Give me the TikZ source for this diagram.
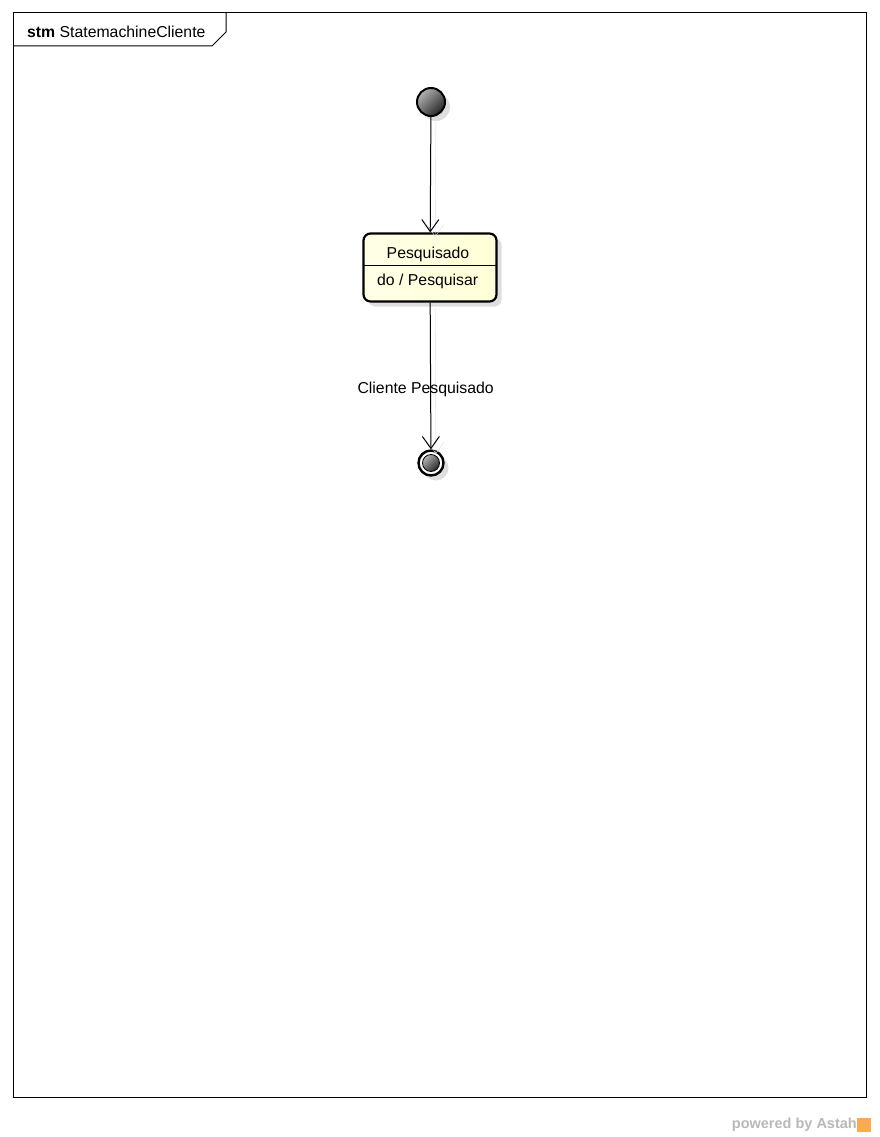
\documentclass[tikz,border=0pt]{standalone}
\usepackage{fontspec}
\setmainfont{Liberation Sans}
\usetikzlibrary{math,arrows.meta,shadows}

\definecolor{statefill}{RGB}{255,255,214}
\definecolor{astahorange}{RGB}{250,170,80}

\tikzset{
  umltext/.style={font=\fontsize{15.8}{19}\selectfont, inner sep=0pt},
  castshadow/.style={drop shadow={shadow xshift=5pt, shadow yshift=-5pt, fill=black!13, opacity=1}},
  initstate/.style={circle, draw, line width=2pt, minimum size=28pt, inner sep=0pt,
    left color=black!30, right color=black!85, shading angle=45, castshadow},
  statebox/.style={rectangle, rounded corners=7pt, draw, line width=2.2pt,
    minimum width=133pt, minimum height=68pt, inner sep=0pt,
    left color=white!40!statefill, right color=statefill, castshadow},
  finalring/.style={circle, draw, line width=2.4pt, fill=white, minimum size=25pt, inner sep=0pt, castshadow},
  finaldot/.style={circle, draw, line width=0.8pt, minimum size=17pt, inner sep=0pt,
    left color=black!30, right color=black!85, shading angle=45},
  transition/.style={draw, line width=1pt, -{Straight Barb[length=12pt, width=17pt]},
    preaction={draw=black!13, transform canvas={shift={(5pt,-5pt)}}}}
}

\begin{document}
\begin{tikzpicture}[x=1pt, y=-1pt]
  \tikzmath{\cx = 431;}
  \useasboundingbox (0,0) rectangle (880,1137);

  % frame and its name tag
  \draw[line width=1pt] (13,13) rectangle (866,1097);
  \draw[line width=1pt] (13,46) -- (212,46) -- (226,32) -- (226,13);
  \node[umltext, anchor=west] (frametitle) at (27,32) {\textbf{stm} StatemachineCliente};

  % initial pseudostate
  \node[initstate] (init) at (\cx,102) {};

  % state Pesquisado
  \node[statebox] (pesq) at (430,267.5) {};
  \node[umltext] (pesqname) at (428,254) {Pesquisado};
  \coordinate (splitw) at (364,265);
  \coordinate (splite) at (496,265);
  \draw[line width=0.7pt] (splitw) -- (splite);
  \node[umltext, anchor=west] (pesqdo) at (377,281) {do / Pesquisar};

  % final state
  \node[finalring] (final) at (\cx,463) {};
  \node[finaldot] (finaldot) at (final) {};

  % transitions
  \path[transition] (init) -- (pesq);
  \path[transition] (pesq) -- node[umltext, pos=0.6, xshift=-5pt, yshift=1pt] (trlabel) {Cliente Pesquisado} (final);

  % powered by Astah
  \node[anchor=east, text=black!28, font=\fontsize{14.5}{16}\selectfont\bfseries, inner sep=0pt] (astah) at (857,1125) {powered by Astah};
  \node[anchor=west, fill=astahorange, minimum size=14pt, inner sep=0pt] (astahlogo) at (astah.east) {};
\end{tikzpicture}
\end{document}
